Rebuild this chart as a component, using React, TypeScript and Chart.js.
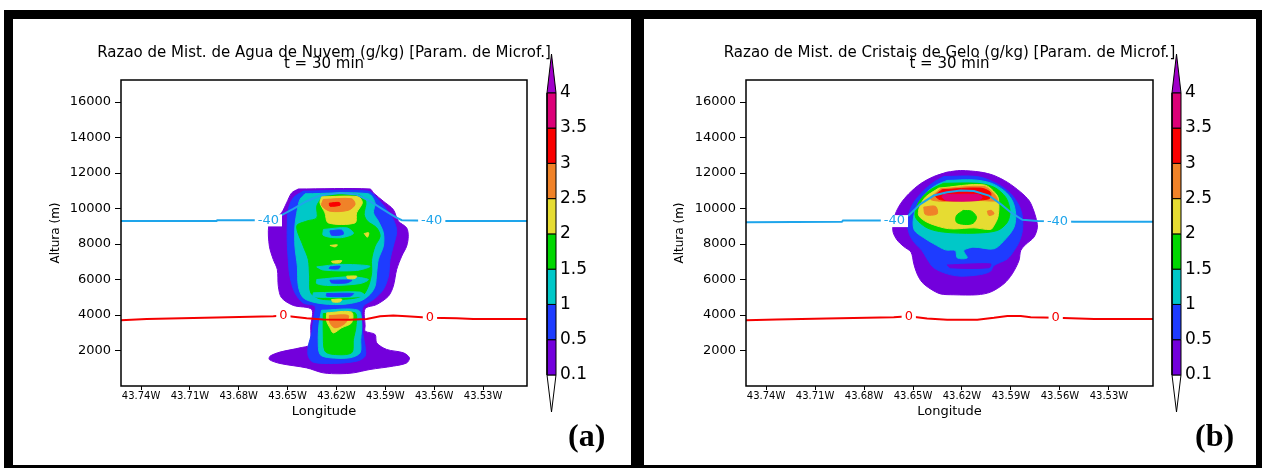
import React, { useEffect, useRef } from 'react';
import { Chart, registerables } from 'chart.js';

Chart.register(...registerables);

type P = [number, number];

const FF = '"DejaVu Sans", sans-serif';
Chart.defaults.font.family = FF;
Chart.defaults.color = '#000';

// ---- axes ----
const lonMin = -43.7523;
const lonMax = -43.503;
const altMin = 0;
const altMax = 17240;
const lonTicks = [-43.74, -43.71, -43.68, -43.65, -43.62, -43.59, -43.56, -43.53];
const altTicks = [2000, 4000, 6000, 8000, 10000, 12000, 14000, 16000];

// ---- colour scale ----
const levelLabels = ['0.1', '0.5', '1', '1.5', '2', '2.5', '3', '3.5', '4'];
const binColors = [
  'rgb(115,0,220)', 'rgb(30,60,255)', 'rgb(0,200,200)', 'rgb(0,215,0)', 'rgb(230,220,50)',
  'rgb(240,130,40)', 'rgb(250,0,0)', 'rgb(220,0,120)', 'rgb(160,0,200)',
];
const iso40Color = 'rgb(30,165,235)';
const iso0Color = 'rgb(245,0,0)';

const titleWater = 'Razao de Mist. de Agua de Nuvem (g/kg) [Param. de Microf.]';
const titleIce = 'Razao de Mist. de Cristais de Gelo (g/kg) [Param. de Microf.]';
const subTitle = 't = 30 min';

// ---- (a) cloud water contours [lon, alt] ----
const waterL01: P[] = [[-43.6434,11100],[-43.5994,11100],[-43.5973,10880],[-43.5912,10410],[-43.5851,9940],[-43.5820,9290],[-43.5769,8910],[-43.5759,8440],[-43.5769,7880],[-43.5799,7320],[-43.5830,6570],[-43.5851,5620],[-43.5881,5060],[-43.5953,4590],[-43.6024,4350],[-43.6024,3370],[-43.6024,3090],[-43.5963,2900],[-43.5953,2430],[-43.5892,2060],[-43.5789,1870],[-43.5752,1590],[-43.5769,1300],[-43.5851,1120],[-43.5994,930],[-43.6096,740],[-43.6178,690],[-43.6281,740],[-43.6383,1020],[-43.6547,1270],[-43.6612,1490],[-43.6608,1680],[-43.6547,1910],[-43.6424,2150],[-43.6363,2340],[-43.6358,3370],[-43.6352,4310],[-43.6465,4540],[-43.6537,4970],[-43.6557,5620],[-43.6563,6560],[-43.6588,7130],[-43.6612,7880],[-43.6616,9010],[-43.6588,9290],[-43.6537,9760],[-43.6506,10320],[-43.6475,10880]];
const waterL05: P[] = [[-43.6404,10980],[-43.6004,10980],[-43.5953,10600],[-43.5892,9940],[-43.5851,9380],[-43.5830,8720],[-43.5851,7880],[-43.5871,7130],[-43.5881,6190],[-43.5912,5440],[-43.5973,4870],[-43.6035,4500],[-43.6045,3930],[-43.6039,2990],[-43.6024,2240],[-43.6024,1680],[-43.6075,1400],[-43.6219,1270],[-43.6342,1340],[-43.6373,1680],[-43.6373,2240],[-43.6352,2990],[-43.6338,3930],[-43.6332,4500],[-43.6404,4680],[-43.6455,5250],[-43.6486,6190],[-43.6496,7130],[-43.6502,8070],[-43.6502,9010],[-43.6496,9940],[-43.6465,10600]];
const waterL1Upper: P[] = [[-43.6393,10830],[-43.6004,10830],[-43.5963,10320],[-43.5973,9760],[-43.5943,9290],[-43.5912,8630],[-43.5912,7880],[-43.5943,7130],[-43.5953,6380],[-43.5963,5620],[-43.5994,5160],[-43.6055,4780],[-43.6178,4590],[-43.6321,4680],[-43.6404,4970],[-43.6434,5620],[-43.6440,6750],[-43.6455,7880],[-43.6455,9010],[-43.6440,9940],[-43.6424,10510]];
const waterL1Lower: P[] = [[-43.6291,4270],[-43.6066,4270],[-43.6045,3560],[-43.6051,2620],[-43.6055,1870],[-43.6117,1590],[-43.6240,1590],[-43.6301,1780],[-43.6312,2620],[-43.6306,3560]];
const waterL15Upper: P[] = [[-43.6296,10550],[-43.6255,10790],[-43.6071,10790],[-43.6020,10410],[-43.6030,9670],[-43.6010,9290],[-43.5953,8910],[-43.5932,8440],[-43.5963,7880],[-43.5984,7130],[-43.5984,6380],[-43.6004,5620],[-43.6045,5060],[-43.6178,4870],[-43.6301,4910],[-43.6358,5250],[-43.6365,6190],[-43.6373,7130],[-43.6404,7880],[-43.6444,9010],[-43.6383,9290],[-43.6321,9470],[-43.6321,10130]];
const waterL15Lower: P[] = [[-43.6281,4080],[-43.6086,4120],[-43.6080,3370],[-43.6096,2620],[-43.6107,1870],[-43.6219,1780],[-43.6271,1970],[-43.6281,2990]];
const waterHolesL1: P[][] = [
  [[-43.6280,8820],[-43.6137,8910],[-43.6096,8590],[-43.6178,8350],[-43.6280,8480]],
  [[-43.6321,6710],[-43.6178,6850],[-43.5994,6750],[-43.6076,6510],[-43.6280,6530]],
  [[-43.6321,6000],[-43.6117,6150],[-43.6004,6000],[-43.6055,5770],[-43.6240,5660],[-43.6321,5770]],
  [[-43.6342,5250],[-43.6055,5290],[-43.6024,5060],[-43.6342,5020]],
];
const waterHolesL05: P[][] = [
  [[-43.6240,8740],[-43.6168,8780],[-43.6158,8550],[-43.6230,8500]],
  [[-43.6240,6710],[-43.6178,6750],[-43.6189,6600],[-43.6244,6620]],
  [[-43.6240,5960],[-43.6106,5960],[-43.6137,5810],[-43.6230,5810]],
  [[-43.6260,5210],[-43.6096,5210],[-43.6117,5060],[-43.6260,5060]],
];
const waterL2: P[][] = [
  [[-43.6291,10660],[-43.6066,10660],[-43.6041,10320],[-43.6076,9760],[-43.6086,9190],[-43.6250,9190],[-43.6271,9760],[-43.6301,10320]],
  [[-43.6030,8590],[-43.6002,8630],[-43.6010,8380]],
  [[-43.6240,7920],[-43.6194,7950],[-43.6209,7840]],
  [[-43.6230,7030],[-43.6168,7070],[-43.6178,6940],[-43.6224,6940]],
  [[-43.6137,6190],[-43.6076,6190],[-43.6086,6060],[-43.6132,6060]],
  [[-43.6230,4870],[-43.6168,4890],[-43.6178,4740],[-43.6224,4740]],
  [[-43.6260,4120],[-43.6107,4160],[-43.6107,3560],[-43.6168,3280],[-43.6219,2990],[-43.6240,3280],[-43.6260,3650]],
];
const waterL25: P[][] = [
  [[-43.6281,10510],[-43.6107,10550],[-43.6086,10230],[-43.6127,9900],[-43.6240,9850],[-43.6291,10170]],
  [[-43.6244,3970],[-43.6127,3970],[-43.6148,3520],[-43.6209,3280],[-43.6240,3560]],
];
const waterL3: P[][] = [
  [[-43.6244,10300],[-43.6183,10340],[-43.6178,10190],[-43.6240,10130]],
];
const waterIso40: P[] = [[-43.7523,9290],[-43.6936,9290],[-43.6932,9340],[-43.6700,9340],[-43.6542,9600],[-43.6465,9980],[-43.6383,10410],[-43.6301,10730],[-43.6178,10880],[-43.6076,10790],[-43.5994,10410],[-43.5912,9940],[-43.5840,9530],[-43.5799,9340],[-43.5718,9320],[-43.5523,9290],[-43.5030,9290]];
const waterIso0: P[] = [[-43.7523,3710],[-43.7365,3780],[-43.6936,3860],[-43.6588,3930],[-43.6526,3970],[-43.6465,3900],[-43.6383,3820],[-43.6281,3750],[-43.6117,3730],[-43.6014,3780],[-43.5932,3930],[-43.5851,3970],[-43.5769,3930],[-43.5626,3840],[-43.5462,3820],[-43.5360,3780],[-43.5030,3780]];
const waterLabels = [
  { text: '-40', lon: -43.6618, alt: 9330, color: iso40Color },
  { text: '-40', lon: -43.5615, alt: 9300, color: iso40Color },
  { text: '0', lon: -43.6526, alt: 3950, color: iso0Color },
  { text: '0', lon: -43.5626, alt: 3840, color: iso0Color },
];

// ---- (b) ice crystal contours [lon, alt] ----
const iceL01: P[] = [[-43.6291,12050],[-43.6209,12140],[-43.6086,12050],[-43.6004,11860],[-43.5922,11480],[-43.5840,10920],[-43.5789,10450],[-43.5769,10080],[-43.5748,9510],[-43.5738,8950],[-43.5759,8390],[-43.5810,7970],[-43.5840,7630],[-43.5851,7070],[-43.5892,6320],[-43.5943,5760],[-43.6025,5290],[-43.6106,5140],[-43.6250,5140],[-43.6332,5190],[-43.6393,5470],[-43.6445,5850],[-43.6475,6320],[-43.6495,6880],[-43.6512,7540],[-43.6557,7860],[-43.6598,8230],[-43.6622,8670],[-43.6622,9140],[-43.6608,9700],[-43.6577,10260],[-43.6526,10830],[-43.6455,11390],[-43.6373,11800]];
const iceL05: P[] = [[-43.6312,11800],[-43.6106,11800],[-43.5984,11390],[-43.5902,10830],[-43.5851,10170],[-43.5830,9510],[-43.5830,8760],[-43.5851,8100],[-43.5881,7630],[-43.5922,7160],[-43.6004,6790],[-43.6025,6470],[-43.6086,6280],[-43.6209,6190],[-43.6291,6320],[-43.6373,6660],[-43.6414,7160],[-43.6445,7630],[-43.6485,8010],[-43.6516,8420],[-43.6532,8950],[-43.6526,9700],[-43.6495,10350],[-43.6434,11010],[-43.6373,11480]];
const iceHoleL01: P[] = [[-43.6291,6820],[-43.6025,6880],[-43.6035,6660],[-43.6271,6660]];
const iceL1: P[] = [[-43.6291,11580],[-43.6127,11610],[-43.6025,11440],[-43.5943,11010],[-43.5892,10450],[-43.5871,9700],[-43.5881,8950],[-43.5932,8290],[-43.6004,7730],[-43.6127,7820],[-43.6189,7630],[-43.6168,7220],[-43.6229,7220],[-43.6240,7630],[-43.6301,7670],[-43.6373,8010],[-43.6434,8350],[-43.6491,8760],[-43.6499,9320],[-43.6479,10080],[-43.6424,10830],[-43.6362,11300]];
const iceL15: P[] = [[-43.6312,11420],[-43.6106,11420],[-43.6004,11200],[-43.5933,10640],[-43.5906,9890],[-43.5922,9230],[-43.5984,8760],[-43.6127,8610],[-43.6312,8670],[-43.6414,8910],[-43.6485,9510],[-43.6475,10170],[-43.6434,10730],[-43.6383,11110]];
const iceL2: P[] = [[-43.6342,11150],[-43.6066,11330],[-43.5984,10730],[-43.5974,10170],[-43.5980,9510],[-43.6004,9040],[-43.6025,8820],[-43.6127,8910],[-43.6250,8850],[-43.6312,8910],[-43.6414,9230],[-43.6465,9600],[-43.6460,10080],[-43.6424,10640]];
const iceHoleL15: P[] = [[-43.6193,9890],[-43.6142,9850],[-43.6111,9510],[-43.6132,9170],[-43.6183,9100],[-43.6234,9230],[-43.6234,9600]];
const iceL25: P[][] = [
  [[-43.6332,11110],[-43.6066,11240],[-43.6004,10830],[-43.5984,10450],[-43.6086,10450],[-43.6209,10410],[-43.6332,10410],[-43.6393,10540]],
  [[-43.6434,10080],[-43.6362,10120],[-43.6352,9700],[-43.6424,9660]],
  [[-43.6045,9850],[-43.6019,9890],[-43.6004,9700],[-43.6035,9610]],
];
const iceL3: P[] = [[-43.6322,11060],[-43.6086,11150],[-43.6025,10900],[-43.6035,10550],[-43.6209,10450],[-43.6332,10490],[-43.6362,10730]];
const iceL35: P[] = [[-43.6312,10790],[-43.6106,10790],[-43.6076,10640],[-43.6106,10450],[-43.6291,10450],[-43.6322,10640]];
const iceIso40: P[] = [[-43.7523,9230],[-43.6936,9250],[-43.6929,9320],[-43.6700,9320],[-43.6618,9290],[-43.6526,9610],[-43.6455,10250],[-43.6373,10730],[-43.6291,10910],[-43.6209,11010],[-43.6127,10980],[-43.6035,10730],[-43.5963,10250],[-43.5902,9790],[-43.5830,9360],[-43.5738,9290],[-43.5615,9280],[-43.5513,9260],[-43.5030,9260]];
const iceIso0: P[] = [[-43.7523,3710],[-43.7335,3750],[-43.7028,3800],[-43.6618,3880],[-43.6526,3930],[-43.6414,3800],[-43.6291,3730],[-43.6106,3730],[-43.6004,3840],[-43.5922,3950],[-43.5840,3950],[-43.5779,3880],[-43.5626,3840],[-43.5390,3780],[-43.5030,3780]];
const iceLabels = [
  { text: '-40', lon: -43.6614, alt: 9290, color: iso40Color },
  { text: '-40', lon: -43.5615, alt: 9280, color: iso40Color },
  { text: '0', lon: -43.6526, alt: 3930, color: iso0Color },
  { text: '0', lon: -43.5626, alt: 3840, color: iso0Color },
];

// shapes in paint order: [bin index, polygon]
const waterShapes: [number, P[]][] = [
  [0, waterL01], [1, waterL05], [2, waterL1Upper], [2, waterL1Lower], [3, waterL15Upper], [3, waterL15Lower],
  ...waterHolesL1.map((p) => [2, p] as [number, P[]]),
  ...waterHolesL05.map((p) => [1, p] as [number, P[]]),
  ...waterL2.map((p) => [4, p] as [number, P[]]),
  ...waterL25.map((p) => [5, p] as [number, P[]]),
  ...waterL3.map((p) => [6, p] as [number, P[]]),
];
const iceShapes: [number, P[]][] = [
  [0, iceL01], [1, iceL05], [0, iceHoleL01], [2, iceL1], [3, iceL15], [4, iceL2], [3, iceHoleL15],
  ...iceL25.map((p) => [5, p] as [number, P[]]),
  [6, iceL3], [7, iceL35],
];

const toXY = (pts: P[]) => pts.map(([x, y]) => ({ x, y }));

const framePlugin = {
  id: 'frameBox',
  afterDatasetsDraw(chart: any) {
    const { ctx, chartArea: a } = chart;
    ctx.save();
    ctx.strokeStyle = '#000';
    ctx.lineWidth = 1.5;
    ctx.strokeRect(a.left, a.top, a.right - a.left, a.bottom - a.top);
    ctx.restore();
  },
};

function makeLabelPlugin(items: { text: string; lon: number; alt: number; color: string }[]) {
  return {
    id: 'isoLabels',
    afterDatasetsDraw(chart: any) {
      const { ctx } = chart;
      const xs = chart.scales.x;
      const ys = chart.scales.y;
      ctx.save();
      ctx.font = '13px ' + FF;
      ctx.textAlign = 'center';
      ctx.textBaseline = 'middle';
      for (const it of items) {
        const px = xs.getPixelForValue(it.lon);
        const py = ys.getPixelForValue(it.alt);
        const w = ctx.measureText(it.text).width;
        ctx.fillStyle = '#fff';
        ctx.fillRect(px - w / 2 - 3, py - 6, w + 6, 12);
        ctx.fillStyle = it.color;
        ctx.fillText(it.text, px, py);
      }
      ctx.restore();
    },
  };
}

function panelConfig(title: string, shapes: [number, P[]][], iso40: P[], iso0: P[], labels: any[], axisW: number, yTitlePad: number) {
  const datasets: any[] = [];
  let k = 0;
  for (const [bin, pts] of shapes) {
    datasets.push({
      data: toXY([...pts, pts[0]]),
      fill: 'shape',
      backgroundColor: binColors[bin],
      borderColor: binColors[bin],
      borderWidth: 1,
      tension: 0.3,
      pointRadius: 0,
      order: -k++,
    });
  }
  datasets.push({ data: toXY(iso40), fill: false, borderColor: iso40Color, borderWidth: 2, tension: 0, pointRadius: 0, order: -k++ });
  datasets.push({ data: toXY(iso0), fill: false, borderColor: iso0Color, borderWidth: 2, tension: 0, pointRadius: 0, order: -k++ });
  return {
    type: 'line',
    data: { datasets },
    options: {
      animation: false,
      responsive: false,
      events: [],
      layout: { padding: 0 },
      elements: { point: { radius: 0 } },
      plugins: {
        legend: { display: false },
        tooltip: { enabled: false },
        title: {
          display: true,
          text: [title, subTitle],
          color: '#000',
          font: { family: FF, size: 15, weight: 'normal', lineHeight: '11px' },
          padding: { top: 48, bottom: 10 },
        },
      },
      scales: {
        x: {
          type: 'linear',
          min: lonMin,
          max: lonMax,
          afterBuildTicks: (s: any) => { s.ticks = lonTicks.map((v) => ({ value: v })); },
          afterFit: (s: any) => { s.height = 82; },
          ticks: {
            callback: (v: any) => Math.abs(Number(v)).toFixed(2) + 'W',
            font: { family: FF, size: 10 },
            color: '#000',
            maxRotation: 0,
            minRotation: 0,
            autoSkip: false,
            padding: 0,
          },
          grid: { drawOnChartArea: false, drawTicks: true, tickLength: 4, color: '#000' },
          border: { display: false },
          title: { display: true, text: 'Longitude', color: '#000', font: { family: FF, size: 13 }, padding: { top: 0, bottom: 49 } },
        },
        y: {
          type: 'linear',
          position: 'left',
          min: altMin,
          max: altMax,
          afterBuildTicks: (s: any) => { s.ticks = altTicks.map((v) => ({ value: v })); },
          afterFit: (s: any) => { s.width = axisW; },
          ticks: { font: { family: FF, size: 13 }, color: '#000', padding: 4, callback: (v: any) => String(v) },
          grid: { drawOnChartArea: false, drawTicks: true, tickLength: 6, color: '#000' },
          border: { display: false },
          title: { display: true, text: 'Altura (m)', color: '#000', font: { family: FF, size: 12 }, padding: { top: yTitlePad, bottom: 0 } },
        },
        yr: {
          type: 'linear',
          position: 'right',
          min: 0,
          max: 1,
          afterFit: (s: any) => { s.width = axisW; },
          ticks: { display: false },
          grid: { display: false, drawTicks: false },
          border: { display: false },
        },
      },
    },
    plugins: [makeLabelPlugin(labels), framePlugin],
  };
}

function colorbarConfig() {
  const datasets: any[] = [];
  const top = levelLabels.length - 1;
  const segs: { pts: P[]; color: string }[] = [];
  segs.push({ pts: [[0, 0], [1, 0], [0.5, -1.05]], color: '#ffffff' });
  for (let i = 0; i < top; i++) segs.push({ pts: [[0, i], [1, i], [1, i + 1], [0, i + 1]], color: binColors[i] });
  segs.push({ pts: [[0, top], [1, top], [0.5, top + 1.1]], color: binColors[top] });
  segs.forEach((s, k) => {
    datasets.push({
      data: toXY([...s.pts, s.pts[0]]),
      fill: 'shape',
      backgroundColor: s.color,
      borderColor: '#000',
      borderWidth: 1,
      tension: 0,
      pointRadius: 0,
      order: -k,
      clip: 2,
    });
  });
  return {
    type: 'line',
    data: { datasets },
    options: {
      animation: false,
      responsive: false,
      events: [],
      layout: { padding: { left: 47, top: 54, bottom: 56, right: 0 } },
      plugins: { legend: { display: false }, tooltip: { enabled: false }, title: { display: false } },
      scales: {
        x: { type: 'linear', min: 0, max: 1, display: false },
        y: {
          type: 'linear',
          position: 'right',
          min: -1.05,
          max: top + 1.1,
          afterBuildTicks: (s: any) => { s.ticks = levelLabels.map((_, i) => ({ value: i })); },
          afterFit: (s: any) => { s.width = 74; },
          ticks: { callback: (v: any) => levelLabels[Number(v)], font: { family: FF, size: 17 }, color: '#000', padding: 4 },
          grid: { display: false, drawTicks: false },
          border: { display: false },
        },
      },
    },
  };
}

function ChartCanvas({ left, top, width, height, make }: { left: number; top: number; width: number; height: number; make: () => any }) {
  const ref = useRef<HTMLCanvasElement>(null);
  useEffect(() => {
    const chart = new Chart(ref.current as HTMLCanvasElement, make());
    return () => chart.destroy();
  }, []);
  return <canvas ref={ref} width={width} height={height} style={{ position: 'absolute', left, top, width, height }} />;
}

const bar = (left: number, top: number, width: number, height: number) => (
  <div style={{ position: 'absolute', left, top, width, height, background: '#000', zIndex: 5 }} />
);

export default function App() {
  const panelLabel = { position: 'absolute' as const, fontFamily: '"Liberation Serif", serif', fontWeight: 'bold' as const, fontSize: 32, lineHeight: '32px', color: '#000', zIndex: 6 };
  return (
    <div style={{ position: 'absolute', left: 0, top: 0, width: 1262, height: 468, overflow: 'hidden', background: '#fff' }}>
      <ChartCanvas left={0} top={0} width={648} height={468} make={() => panelConfig(titleWater, waterShapes, waterIso40, waterIso0, waterLabels, 121, 48.8)} />
      <ChartCanvas left={645} top={0} width={609} height={468} make={() => panelConfig(titleIce, iceShapes, iceIso40, iceIso0, iceLabels, 101, 27.8)} />
      <ChartCanvas left={500} top={0} width={130} height={468} make={colorbarConfig} />
      <ChartCanvas left={1125} top={0} width={130} height={468} make={colorbarConfig} />
      <div style={{ ...panelLabel, left: 568, top: 419 }}>(a)</div>
      <div style={{ ...panelLabel, left: 1195, top: 419 }}>(b)</div>
      {bar(4, 10, 1258, 9)}
      {bar(4, 10, 9, 458)}
      {bar(4, 465, 1258, 3)}
      {bar(631, 10, 13, 458)}
      {bar(1256, 10, 6, 458)}
    </div>
  );
}
